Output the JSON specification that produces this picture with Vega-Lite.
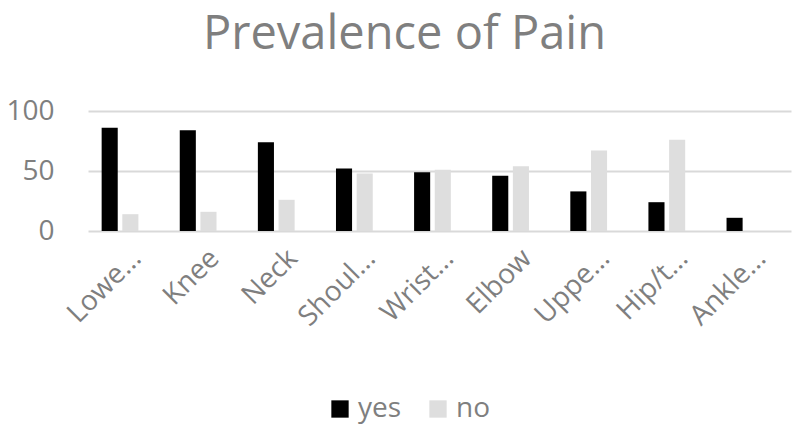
{
  "$schema": "https://vega.github.io/schema/vega-lite/v6.json",
  "width": 703,
  "height": 120,
  "padding": {"left": 5, "top": 11, "right": 5, "bottom": 5},
  "background": "white",
  "config": {
    "font": "Open Sans",
    "view": {"stroke": null}
  },
  "title": {
    "text": "Prevalence of Pain",
    "fontSize": 47,
    "fontWeight": "normal",
    "color": "#7f7f7f",
    "anchor": "middle",
    "frame": "bounds",
    "dx": 6,
    "offset": 38
  },
  "data": {
    "values": [
      {"region": "Lower back", "answer": "yes", "percent": 86},
      {"region": "Lower back", "answer": "no", "percent": 14},
      {"region": "Knee", "answer": "yes", "percent": 84},
      {"region": "Knee", "answer": "no", "percent": 16},
      {"region": "Neck", "answer": "yes", "percent": 74},
      {"region": "Neck", "answer": "no", "percent": 26},
      {"region": "Shoulder", "answer": "yes", "percent": 52},
      {"region": "Shoulder", "answer": "no", "percent": 48},
      {"region": "Wrist/hand", "answer": "yes", "percent": 49},
      {"region": "Wrist/hand", "answer": "no", "percent": 51},
      {"region": "Elbow", "answer": "yes", "percent": 46},
      {"region": "Elbow", "answer": "no", "percent": 54},
      {"region": "Upper back", "answer": "yes", "percent": 33},
      {"region": "Upper back", "answer": "no", "percent": 67},
      {"region": "Hip/thigh", "answer": "yes", "percent": 24},
      {"region": "Hip/thigh", "answer": "no", "percent": 76},
      {"region": "Ankle/foot", "answer": "yes", "percent": 11}
    ]
  },
  "mark": {"type": "bar"},
  "encoding": {
    "x": {
      "field": "region",
      "type": "nominal",
      "sort": null,
      "title": null,
      "scale": {"paddingInner": 0, "paddingOuter": 0},
      "axis": {
        "labelAngle": -45,
        "labelFontSize": 28,
        "labelColor": "#7f7f7f",
        "labelLimit": 96,
        "labelPadding": 13,
        "domain": false,
        "ticks": false
      }
    },
    "xOffset": {
      "field": "answer",
      "sort": ["yes", "no"],
      "scale": {"paddingInner": 0.222, "paddingOuter": 1.28, "align": 0.33}
    },
    "y": {
      "field": "percent",
      "type": "quantitative",
      "title": null,
      "scale": {"domain": [0, 100]},
      "axis": {
        "values": [0, 50, 100],
        "labelFontSize": 28,
        "labelColor": "#7f7f7f",
        "labelPadding": 34,
        "domain": false,
        "ticks": false,
        "gridColor": "#d9d9d9",
        "gridWidth": 2
      }
    },
    "color": {
      "field": "answer",
      "type": "nominal",
      "sort": ["yes", "no"],
      "scale": {"domain": ["yes", "no"], "range": ["#000000", "#dedede"]},
      "legend": {
        "title": null,
        "orient": "none",
        "legendX": 238,
        "legendY": 284,
        "direction": "horizontal",
        "symbolType": "square",
        "symbolSize": 300,
        "symbolStrokeWidth": 0,
        "labelFontSize": 28,
        "labelColor": "#7f7f7f",
        "columnPadding": 22
      }
    }
  }
}
